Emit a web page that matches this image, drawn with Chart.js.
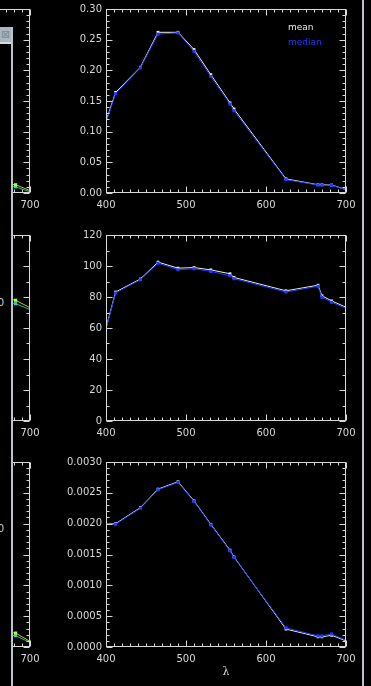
<!DOCTYPE html>
<html>
<head>
<meta charset="utf-8">
<script src="https://cdn.jsdelivr.net/npm/chart.js@4.4.1/dist/chart.umd.min.js"></script>
<style>
  html, body { margin: 0; padding: 0; background: #000; width: 371px; height: 686px; overflow: hidden; }
  canvas { position: absolute; }
  .frame { position: absolute; left: 0; top: 27px; width: 11px; height: 659px; background: #000; border-right: 2px solid #b9c4cc; }
  .bar { position: absolute; left: 0; top: 0; width: 11px; height: 15px; background: #a9b5bf; border-bottom: 2px solid #d3dae0; }
  .close { position: absolute; left: 1px; top: 2px; font: 11px "DejaVu Sans"; line-height: 11px; color: #7f8c97; }
  .cut { position: absolute; right: 7px; font: 10px "DejaVu Sans"; line-height: 12px; color: #d0d0d0; }
  .edge { position: absolute; left: 362px; top: 0; width: 2px; height: 686px; background: #b5c0c8; }
</style>
</head>
<body>
<canvas id="l1" width="316" height="215" style="left:-276px;top:0"></canvas>
<canvas id="l2" width="316" height="217" style="left:-276px;top:226px"></canvas>
<canvas id="l3" width="316" height="226" style="left:-276px;top:453px"></canvas>
<canvas id="r1" width="316" height="215" style="left:40px;top:0"></canvas>
<canvas id="r2" width="316" height="217" style="left:40px;top:226px"></canvas>
<canvas id="r3" width="316" height="226" style="left:40px;top:453px"></canvas>
<div class="frame">
  <div class="bar"><span class="close">⊠</span></div>
  <span class="cut" style="top:270px">0</span>
  <span class="cut" style="top:496px">0</span>
</div>
<div class="edge"></div>
<script>
// wavelengths (nm) shared by all right-hand panels
var WAVELENGTHS = [400, 412, 443, 465, 490, 510, 531, 555, 560, 625, 665, 670, 682, 700];

// top panel
var MEAN_1   = [0.117, 0.164, 0.205, 0.262, 0.262, 0.234, 0.193, 0.147, 0.137, 0.023, 0.0135, 0.0135, 0.013, 0.0056];
var MEDIAN_1 = [0.115, 0.162, 0.204, 0.259, 0.261, 0.231, 0.190, 0.145, 0.134, 0.0217, 0.013, 0.013, 0.0125, 0.0054];
// middle panel
var MEAN_2   = [60.0, 83.2, 91.6, 102.5, 98.6, 99.0, 97.5, 95.0, 92.6, 84.0, 87.6, 80.8, 77.5, 73.4];
var MEDIAN_2 = [59.5, 82.6, 91.1, 101.8, 97.6, 98.2, 96.5, 93.7, 91.8, 83.2, 86.9, 79.8, 76.6, 72.7];
// bottom panel
var MEAN_3   = [0.00200, 0.00200, 0.00226, 0.00256, 0.00268, 0.00237, 0.00199, 0.00157, 0.00146, 0.00029, 0.000165, 0.000165, 0.00019, 0.00010];
var MEDIAN_3 = [0.00200, 0.00199, 0.00225, 0.00255, 0.00267, 0.00236, 0.00198, 0.00156, 0.00145, 0.00031, 0.00018, 0.00018, 0.00021, 0.00011];

// the clipped left-hand panels: only the last points are visible
var LEFT_WAVELENGTHS = [670, 682, 700];
var LEFT_YELLOW_1 = [0.0150, 0.0135, 0.004];
var LEFT_CYAN_1   = [0.0115, 0.010, 0.002];
var LEFT_YELLOW_2 = [79.0, 77.9, 73.1];
var LEFT_CYAN_2   = [77.0, 75.7, 71.9];
var LEFT_YELLOW_3 = [0.000240, 0.000226, 0.000091];
var LEFT_CYAN_3   = [0.000195, 0.000183, 0.000074];

var FG = "#d8d8d8", BLUE = "#1e3cff", WHITE = "#ececec";
var FONT = { family: "DejaVu Sans", size: 10 };

// IDL-style box with inward major/minor ticks on every side
var idlBox = {
  id: "idlBox",
  afterDraw: function (chart, args, o) {
    var ctx = chart.ctx, a = chart.chartArea, x = chart.scales.x, y = chart.scales.y;
    var L = Math.round(a.left) + 0.5, R = Math.round(a.right) - 0.5;
    var T = Math.round(a.top) + 0.5, B = Math.round(a.bottom) - 0.5;
    ctx.save();
    ctx.strokeStyle = FG; ctx.lineWidth = 1;
    ctx.strokeRect(L, T, R - L, B - T);
    ctx.beginPath();
    var xm = x.ticks.map(function (t) { return t.value; });
    var n = Math.round((x.max - x.min) / o.xMinor);
    for (var i = 0; i <= n; i++) {
      var v = x.min + i * o.xMinor;
      var big = xm.some(function (m) { return Math.abs(m - v) < o.xMinor * 1e-3; });
      var p = Math.round(x.getPixelForValue(v)) + 0.5, len = big ? 6 : 3;
      ctx.moveTo(p, B); ctx.lineTo(p, B - len);
      ctx.moveTo(p, T); ctx.lineTo(p, T + len);
    }
    var ym = y.ticks.map(function (t) { return t.value; });
    n = Math.round((y.max - y.min) / o.yMinor);
    for (var j = 0; j <= n; j++) {
      var w = y.min + j * o.yMinor;
      var bigy = ym.some(function (m) { return Math.abs(m - w) < o.yMinor * 1e-3; });
      var q = Math.round(y.getPixelForValue(w)) + 0.5, ly = bigy ? 6 : 3;
      ctx.moveTo(L, q); ctx.lineTo(L + ly, q);
      ctx.moveTo(R, q); ctx.lineTo(R - ly, q);
    }
    ctx.stroke();
    ctx.restore();
  }
};

// plain coloured text legend, top right inside the box
var idlLegend = {
  id: "idlLegend",
  afterDraw: function (chart, args, o) {
    if (!o.show) return;
    var ctx = chart.ctx, a = chart.chartArea;
    ctx.save();
    ctx.font = "9px 'DejaVu Sans'"; ctx.textBaseline = "middle"; ctx.textAlign = "left";
    chart.data.datasets.forEach(function (ds, i) {
      ctx.fillStyle = ds.borderColor;
      ctx.fillText(ds.label, a.right - 58, a.top + 19 + i * 15);
    });
    ctx.restore();
  }
};

function panel(id, series, xs, c) {
  var el = document.getElementById(id);
  var last = xs.length - 1;
  return new Chart(el, {
    type: "line",
    data: {
      datasets: series.map(function (s) {
        return {
          label: s.label, order: s.order,
          data: xs.map(function (w, i) { return { x: w, y: s.values[i] }; }),
          borderColor: s.line, backgroundColor: s.point, pointBackgroundColor: s.point,
          borderWidth: 1, pointStyle: "rect", pointBorderWidth: 0,
          // no symbol on the end points sitting on the axis box
          pointRadius: function (ctx) { return (ctx.dataIndex === 0 || ctx.dataIndex === last) ? 0 : s.r; },
          tension: 0, fill: false
        };
      })
    },
    options: {
      responsive: false, animation: false, devicePixelRatio: 1,
      layout: { padding: { top: 9, right: 10, left: 0, bottom: 0 } },
      plugins: {
        legend: { display: false }, tooltip: { enabled: false },
        idlBox: { xMinor: 10, yMinor: c.minor },
        idlLegend: { show: !!c.legend }
      },
      scales: {
        x: {
          type: "linear", min: 400, max: 700,
          ticks: { stepSize: 100, color: FG, font: FONT, padding: 6, maxRotation: 0 },
          grid: { display: false, drawTicks: false }, border: { display: false },
          title: { display: !!c.title, text: c.title || "", color: FG,
            font: { family: "DejaVu Serif", size: 11 }, padding: 0 },
          afterFit: function (s) { s.height = c.xh; s.paddingLeft = 0; s.paddingRight = 0; }
        },
        y: {
          min: c.min, max: c.max,
          ticks: { stepSize: c.step, color: FG, font: FONT, padding: 4,
            callback: function (v) { return Number(v).toFixed(c.digits); } },
          grid: { display: false, drawTicks: false }, border: { display: false },
          afterFit: function (s) { s.width = 66; s.paddingTop = 0; s.paddingBottom = 0; }
        }
      }
    },
    plugins: [idlBox, idlLegend]
  });
}

function meanMedian(mean, median) {
  return [
    { label: "mean", values: mean, line: WHITE, point: WHITE, r: 2, order: 1 },
    { label: "median", values: median, line: BLUE, point: BLUE, r: 2.2, order: 0 }
  ];
}
function leftPair(yel, cya) {
  return [
    { label: "a", values: yel, line: "#c4c81e", point: "#b4ff2a", r: 2.2, order: 0 },
    { label: "b", values: cya, line: "#1cbcae", point: "#22d8c8", r: 2.2, order: 1 }
  ];
}

var C1 = { min: 0, max: 0.30, step: 0.05, minor: 0.01, digits: 2, xh: 22 };
var C2 = { min: 0, max: 120, step: 20, minor: 10, digits: 0, xh: 22 };
var C3 = { min: 0, max: 0.0030, step: 0.0005, minor: 0.0001, digits: 4, xh: 32 };

panel("l1", leftPair(LEFT_YELLOW_1, LEFT_CYAN_1), LEFT_WAVELENGTHS, C1);
panel("l2", leftPair(LEFT_YELLOW_2, LEFT_CYAN_2), LEFT_WAVELENGTHS, C2);
panel("l3", leftPair(LEFT_YELLOW_3, LEFT_CYAN_3), LEFT_WAVELENGTHS, C3);

panel("r1", meanMedian(MEAN_1, MEDIAN_1), WAVELENGTHS, Object.assign({ legend: true }, C1));
panel("r2", meanMedian(MEAN_2, MEDIAN_2), WAVELENGTHS, C2);
panel("r3", meanMedian(MEAN_3, MEDIAN_3), WAVELENGTHS, Object.assign({ title: "λ" }, C3));
</script>
</body>
</html>
